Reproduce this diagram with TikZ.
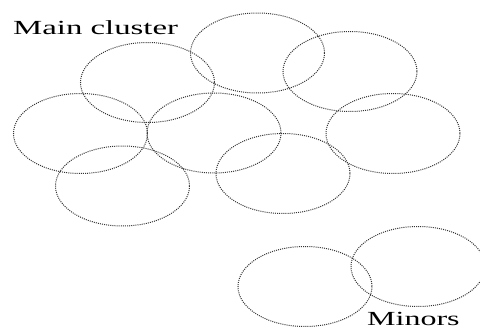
\documentclass[tikz,border=0pt]{standalone}
\usepackage{fontspec}
\setmainfont{Liberation Serif}
\tikzset{
  blob/.style={dash pattern=on 1pt off 1.1pt, line width=1pt, draw=black!80},
  tag/.style={inner sep=0pt, anchor=base west, font=\fontsize{20}{24}\selectfont}
}
\begin{document}
\begin{tikzpicture}[x=1pt,y=-1pt]
      \useasboundingbox (0,0) rectangle (480,329);
      \node[tag] (main) at (13,35) {\scalebox{1.64}[1]{Main cluster}};
      \node[tag] (minors) at (367,325) {\scalebox{1.6}[1]{Minors}};
      \begin{scope}[blob]
        \draw (257.5,53) ellipse [x radius=67, y radius=40];
        \draw (147.5,82.5) ellipse [x radius=67, y radius=40];
        \draw (350,71.5) ellipse [x radius=67, y radius=40];
        \draw (80.5,133.5) ellipse [x radius=67, y radius=40];
        \draw (214,133) ellipse [x radius=67, y radius=40];
        \draw (393,133.5) ellipse [x radius=67, y radius=40];
        \draw (122.5,186) ellipse [x radius=67, y radius=40];
        \draw (283,173.5) ellipse [x radius=67, y radius=40];
        \draw (305,286.5) ellipse [x radius=67, y radius=40];
        \draw (418,266.5) ellipse [x radius=67, y radius=40];
      \end{scope}
    \end{tikzpicture}
\end{document}
